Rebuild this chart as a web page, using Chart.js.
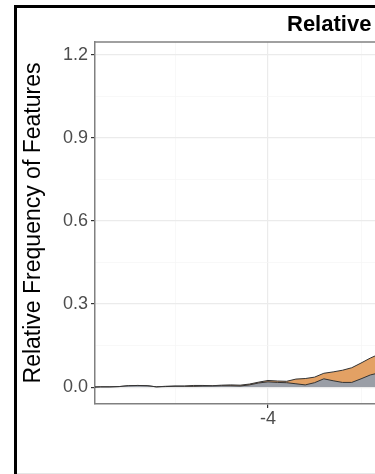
<!DOCTYPE html>
<html>
<head>
<meta charset="utf-8">
<script src="https://cdn.jsdelivr.net/npm/chart.js@4.4.0/dist/chart.umd.min.js"></script>
<style>
    html, body { margin: 0; padding: 0; background: #fff; overflow: hidden; }
    #wrap { width: 375px; height: 474px; }
</style>
</head>
<body>
<div id="wrap"><canvas id="chart" width="375" height="474"></canvas></div>
<script>
// DONNÉES
const xValues = [-5.9, -5.8, -5.7, -5.6, -5.5, -5.4, -5.3, -5.2, -5.1, -5.0,
                 -4.9, -4.8, -4.7, -4.6, -4.5, -4.4, -4.3, -4.2, -4.1, -4.0,
                 -3.9, -3.8, -3.7, -3.6, -3.5, -3.4, -3.3, -3.2, -3.1, -3.0,
                 -2.9, -2.8];
const orangeSeries = [0, 0.001, 0.001, 0.002, 0.005, 0.006, 0.005, 0.001, 0.003, 0.004,
                      0.004, 0.006, 0.006, 0.005, 0.007, 0.008, 0.007, 0.011, 0.018, 0.024,
                      0.022, 0.021, 0.029, 0.031, 0.036, 0.050, 0.055, 0.061, 0.070, 0.087,
                      0.105, 0.120];
const graySeries = [0, 0.001, 0.001, 0.002, 0.005, 0.006, 0.005, 0.001, 0.002, 0.003,
                    0.003, 0.003, 0.004, 0.004, 0.005, 0.005, 0.004, 0.008, 0.015, 0.019,
                    0.017, 0.016, 0.012, 0.008, 0.016, 0.030, 0.023, 0.017, 0.017, 0.030,
                    0.044, 0.052];
const yTicks = [0, 0.15, 0.3, 0.45, 0.6, 0.75, 0.9, 1.05, 1.2];
const yLabels = ['0.0', '', '0.3', '', '0.6', '', '0.9', '', '1.2'];
const xTicks = [-5, -4, -3];
const xLabels = ['', '-4', ''];

const FONT = '"Liberation Sans", Arial, sans-serif';

function toPoints(series) {
    return xValues.map((x, i) => ({ x: x, y: series[i] }));
}

// CADRE + TITRE
const framePlugin = {
    id: 'frame',
    beforeDraw(chart) {
        const ctx = chart.ctx;
        ctx.save();
        ctx.fillStyle = '#fff';
        ctx.fillRect(0, 0, chart.width, chart.height);
        ctx.restore();
    },
    afterDraw(chart) {
        const { ctx, chartArea: a } = chart;
        ctx.save();
        ctx.strokeStyle = '#808080';
        ctx.lineWidth = 1.5;
        ctx.beginPath();
        ctx.moveTo(a.left, a.top);
        ctx.lineTo(a.right, a.top);
        ctx.stroke();

        ctx.strokeStyle = '#e6e6e6';
        ctx.lineWidth = 1;
        ctx.beginPath();
        ctx.moveTo(17, 473.5);
        ctx.lineTo(375, 473.5);
        ctx.stroke();

        ctx.strokeStyle = '#000';
        ctx.lineWidth = 3;
        ctx.beginPath();
        ctx.moveTo(15.5, 474);
        ctx.lineTo(15.5, 6.5);
        ctx.lineTo(375, 6.5);
        ctx.stroke();

        ctx.fillStyle = '#000';
        ctx.font = 'bold 22px ' + FONT;
        ctx.textBaseline = 'middle';
        ctx.fillText('Relative', 287, 25);
        ctx.restore();
    }
};

const ctx = document.getElementById('chart').getContext('2d');
new Chart(ctx, {
    type: 'line',
    data: {
        datasets: [{
            label: 'gray',
            data: toPoints(graySeries),
            backgroundColor: '#9A9EA6',
            borderColor: '#333',
            borderWidth: 1,
            fill: 'origin',
            pointRadius: 0,
            tension: 0
        }, {
            label: 'orange',
            data: toPoints(orangeSeries),
            backgroundColor: '#E3A164',
            borderColor: '#333',
            borderWidth: 1,
            fill: 'origin',
            pointRadius: 0,
            tension: 0
        }]
    },
    options: {
        responsive: false,
        animation: false,
        layout: { padding: { top: 42, left: 0, right: 0, bottom: 0 } },
        plugins: { legend: { display: false }, tooltip: { enabled: false }, title: { display: false } },
        scales: {
            x: {
                type: 'linear',
                min: -5.86,
                max: -2.85,
                afterBuildTicks: s => { s.ticks = xTicks.map(v => ({ value: v })); },
                afterFit: s => { s.height = 70; },
                ticks: {
                    autoSkip: false,
                    maxRotation: 0,
                    padding: 0,
                    color: '#4D4D4D',
                    font: { family: FONT, size: 18 },
                    callback: (v, i) => xLabels[i]
                },
                grid: {
                    color: c => xLabels[c.index] ? '#EBEBEB' : '#F5F5F5',
                    lineWidth: c => xLabels[c.index] ? 1.2 : 0.7,
                    tickColor: c => xLabels[c.index] ? '#333' : 'rgba(0,0,0,0)',
                    tickLength: 4
                },
                border: { display: true, color: '#808080', width: 1.5 }
            },
            y: {
                min: -0.061,
                max: 1.247,
                afterBuildTicks: s => { s.ticks = yTicks.map(v => ({ value: v })); },
                afterFit: s => { s.width = 95; },
                ticks: {
                    autoSkip: false,
                    padding: 3,
                    color: '#4D4D4D',
                    font: { family: FONT, size: 18 },
                    callback: (v, i) => yLabels[i]
                },
                grid: {
                    color: c => yLabels[c.index] ? '#EBEBEB' : '#F5F5F5',
                    lineWidth: c => yLabels[c.index] ? 1.2 : 0.7,
                    tickColor: c => yLabels[c.index] ? '#333' : 'rgba(0,0,0,0)',
                    tickLength: 4
                },
                border: { display: true, color: '#808080', width: 1.5 },
                title: {
                    display: true,
                    text: 'Relative Frequency of Features',
                    color: '#000',
                    font: { family: FONT, size: 23 },
                    padding: { top: 20, bottom: 0 }
                }
            }
        }
    },
    plugins: [framePlugin]
});
</script>
</body>
</html>
